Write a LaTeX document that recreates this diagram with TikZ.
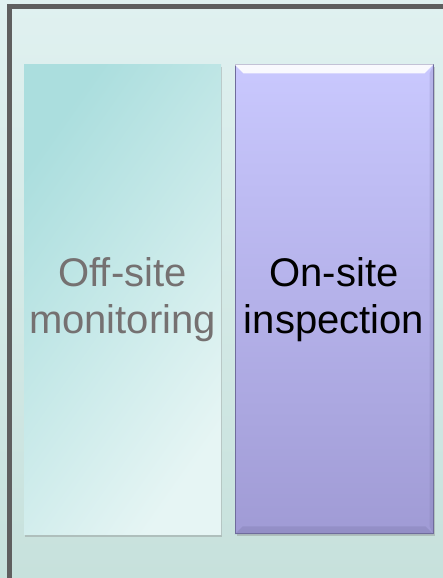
\documentclass[tikz,border=0pt]{standalone}
\usepackage{fontspec}
\setmainfont{Liberation Sans}
\usetikzlibrary{shadows}
\definecolor{bgtop}{HTML}{E0F1F0}
\definecolor{bgbot}{HTML}{C7E1DC}
\definecolor{framegray}{HTML}{5F5F5F}
\definecolor{offtl}{HTML}{ABDEDE}
\definecolor{offbr}{HTML}{E6F5F4}
\definecolor{offtext}{HTML}{757171}
\definecolor{ontop}{HTML}{C9C8FE}
\definecolor{onbot}{HTML}{A09BD5}
\definecolor{onedge}{HTML}{6F6C9C}
\tikzset{
  bigtext/.style={font=\fontsize{40}{47}\selectfont, align=center},
  offbox/.style={bigtext, minimum width=197pt, minimum height=470pt, inner sep=0pt,
    top color=offtl, bottom color=offbr, shading angle=55, text=offtext,
    drop shadow={shadow xshift=1pt, shadow yshift=-2.5pt, opacity=0.35}},
  onbox/.style={bigtext, minimum width=198pt, minimum height=469pt, inner sep=0pt,
    top color=ontop, bottom color=onbot, draw=onedge, line width=1pt, text=black,
    drop shadow={shadow xshift=1.5pt, shadow yshift=-2.5pt, opacity=0.35}}
}
\begin{document}
\begin{tikzpicture}[x=1pt,y=1pt]
  \useasboundingbox (0,0) rectangle (443,578);
  % background and frame
  \shade[top color=bgtop, bottom color=bgbot] (0,0) rectangle (443,578);
  \draw[framegray, line width=5pt] (9.5,0) -- (9.5,571.5) -- (443,571.5);

  \node[offbox] (off) at (122.5,278) {Off-site\\monitoring};
  \node[onbox] (on) at (334,278.5) {On-site\\inspection};

  % bevel of the on-site box
  \fill[white, opacity=0.9] (on.north west) -- (on.north east)
    -- ([xshift=-9pt,yshift=-9pt]on.north east) -- ([xshift=9pt,yshift=-9pt]on.north west) -- cycle;
  \fill[onedge, opacity=0.25] (on.south west) -- (on.south east)
    -- ([xshift=-8pt,yshift=8pt]on.south east) -- ([xshift=8pt,yshift=8pt]on.south west) -- cycle;
  \fill[onedge, opacity=0.2] (on.north east) -- (on.south east)
    -- ([xshift=-4pt,yshift=8pt]on.south east) -- ([xshift=-4pt,yshift=-9pt]on.north east) -- cycle;
\end{tikzpicture}
\end{document}
